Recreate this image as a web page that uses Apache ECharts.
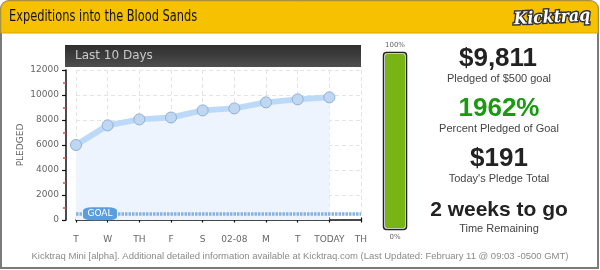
<!DOCTYPE html>
<html><head><meta charset="utf-8">
<script src="https://cdn.jsdelivr.net/npm/echarts@6/dist/echarts.min.js"></script>
<style>html,body{margin:0;padding:0;background:#fff}#c{width:600px;height:270px}</style>
</head><body><div id="c"></div>
<script>
const categories = ['T','W','TH','F','S','02-08','M','T','TODAY','TH'];
const pledgedValues = [6000, 7570, 8050, 8200, 8770, 8930, 9410, 9650, 9811];
const goalValue = 500;
const yMin = 0, yMax = 12000, yInterval = 2000;
const projectTitle = 'Expeditions into the Blood Sands';
const stats = [
  ['$9,811', 'Pledged of $500 goal'],
  ['1962%', 'Percent Pledged of Goal'],
  ['$191', "Today's Pledge Total"],
  ['2 weeks to go', 'Time Remaining']
];
const footerText = 'Kicktraq Mini [alpha]. Additional detailed information available at Kicktraq.com (Last Updated: February 11 @ 09:03 -0500 GMT)';

const chart = echarts.init(document.getElementById('c'), null, {renderer:'canvas'});
const F = 'DejaVu Sans';
const gridPos = {left:76, right:239, top:70, bottom:50};
const pct = Math.min(1, pledgedValues[pledgedValues.length-1] / goalValue);
const barTop = 52.5, barH = 177;

chart.setOption({
  animation:false,
  grid:[Object.assign({}, gridPos), Object.assign({}, gridPos)],
  xAxis:[{
    type:'category', data:categories, boundaryGap:false, gridIndex:0, offset:10,
    axisLine:{lineStyle:{color:'#111', width:1.5}},
    axisTick:{show:true, interval:0, length:2.5, lineStyle:{color:'#111', width:1.2}},
    axisLabel:{color:'#666', fontSize:9, fontFamily:F, margin:5, interval:0, showMaxLabel:true, showMinLabel:true},
    splitLine:{show:true, interval:0, lineStyle:{color:'#e4e4e4', type:[4,3]}}
  },{
    type:'category', data:categories, boundaryGap:false, gridIndex:1, offset:10,
    axisLine:{show:false},
    axisTick:{show:true, interval:0, inside:true, length:2.5, lineStyle:{color:'#111', width:1.2}},
    axisLabel:{show:false}, splitLine:{show:false}
  }],
  yAxis:[{
    type:'value', min:yMin, max:yMax, interval:yInterval, gridIndex:0, offset:10,
    name:'PLEDGED', nameLocation:'middle', nameRotate:90, nameGap:41,
    nameTextStyle:{color:'#666', fontSize:9, fontFamily:F},
    axisLine:{show:true, lineStyle:{color:'#111', width:1.5}},
    axisTick:{show:true, length:4, lineStyle:{color:'#111', width:1.2}},
    minorTick:{show:true, splitNumber:2, length:3, lineStyle:{color:'#ee4444', width:1.5}},
    axisLabel:{color:'#666', fontSize:9, fontFamily:F, margin:7, formatter:function(v){return String(v);}},
    splitLine:{show:true, lineStyle:{color:'#e4e4e4', type:[4,3]}}
  },{
    type:'value', min:yMin, max:yMax, gridIndex:1, show:false
  }],
  series:[{
    type:'line', data:pledgedValues, xAxisIndex:0, yAxisIndex:0,
    symbol:'circle', symbolSize:11,
    lineStyle:{color:'#bcdaf8', width:6},
    itemStyle:{color:'#bfd7f1', borderColor:'#8eb0d8', borderWidth:1},
    areaStyle:{color:'#edf4fd', opacity:1},
    z:3,
    markLine:{
      symbol:'none', silent:true, z:4,
      label:{show:false},
      lineStyle:{color:'#86b2e0', width:3.5, type:[2.5,1]},
      data:[{yAxis:goalValue}]
    },
    markPoint:{
      z:5,
      data:[{coord:[0, goalValue], symbol:'roundRect', symbolSize:[34,13], symbolOffset:[24,0],
        itemStyle:{color:'#5b9ede'},
        label:{show:true, formatter:'GOAL', color:'#fff', fontSize:9, fontFamily:F, position:'inside'}}]
    }
  }],
  graphic:[
    {type:'rect', shape:{x:1, y:1, width:597, height:267, r:[8,8,0,0]}, style:{fill:'#fff', stroke:'#7a7a7a', lineWidth:2}, z:-10},
    {type:'rect', shape:{x:1, y:1, width:597, height:32, r:[8,8,0,0]}, style:{fill:'#f6c200', stroke:'#d8a800', lineWidth:1}, z:-9},
    {type:'text', x:9, y:17, scaleX:0.76, style:{text:projectTitle, font:'15px "DejaVu Sans"', fill:'#111', textVerticalAlign:'middle'}},
    {type:'text', x:552, y:18, rotation:0.05, scaleX:0.92, style:{text:'Kicktraq', font:'italic bold 17px "DejaVu Serif"', fill:'#fff', stroke:'#333', lineWidth:3, textAlign:'center', textVerticalAlign:'middle'}},
    {type:'rect', shape:{x:65, y:45, width:296, height:22}, style:{fill:new echarts.graphic.LinearGradient(0,0,0,1,[{offset:0,color:'#2e2e2e'},{offset:1,color:'#4e4e4e'}])}},
    {type:'text', x:75, y:56, style:{text:'Last 10 Days', font:'12px "DejaVu Sans"', fill:'#c8c8c8', textVerticalAlign:'middle'}},
    {type:'text', x:395, y:45, style:{text:'100%', font:'7px "DejaVu Sans"', fill:'#666', textAlign:'center', textVerticalAlign:'middle'}},
    {type:'text', x:395, y:237, style:{text:'0%', font:'7px "DejaVu Sans"', fill:'#666', textAlign:'center', textVerticalAlign:'middle'}},
    {type:'rect', shape:{x:383.5, y:barTop, width:23, height:barH, r:3}, style:{fill:'#fff', stroke:'#222', lineWidth:1.5}},
    {type:'rect', shape:{x:385, y:barTop+1.5+(barH-3)*(1-pct), width:20, height:(barH-3)*pct, r:2}, style:{fill:'#78b416'}},
    {type:'text', x:498, y:59, style:{text:stats[0][0], font:'bold 26px "Liberation Sans"', fill:'#222', textAlign:'center', textVerticalAlign:'middle'}},
    {type:'text', x:499, y:78.5, style:{text:stats[0][1], font:'11px "Liberation Sans"', fill:'#444', textAlign:'center', textVerticalAlign:'middle'}},
    {type:'text', x:499, y:109, style:{text:stats[1][0], font:'bold 26px "Liberation Sans"', fill:'#1a9a10', textAlign:'center', textVerticalAlign:'middle'}},
    {type:'text', x:499, y:128.5, style:{text:stats[1][1], font:'11px "Liberation Sans"', fill:'#444', textAlign:'center', textVerticalAlign:'middle'}},
    {type:'text', x:499, y:159, style:{text:stats[2][0], font:'bold 26px "Liberation Sans"', fill:'#222', textAlign:'center', textVerticalAlign:'middle'}},
    {type:'text', x:499, y:178.5, style:{text:stats[2][1], font:'11px "Liberation Sans"', fill:'#444', textAlign:'center', textVerticalAlign:'middle'}},
    {type:'text', x:499, y:210, style:{text:stats[3][0], font:'bold 21px "Liberation Sans"', fill:'#222', textAlign:'center', textVerticalAlign:'middle'}},
    {type:'text', x:499, y:228.5, style:{text:stats[3][1], font:'11px "Liberation Sans"', fill:'#444', textAlign:'center', textVerticalAlign:'middle'}},
    {type:'text', x:300, y:256.5, style:{text:footerText, font:'9.5px "Liberation Sans"', fill:'#8a8a8a', textAlign:'center', textVerticalAlign:'middle'}}
  ]
});
</script></body></html>
